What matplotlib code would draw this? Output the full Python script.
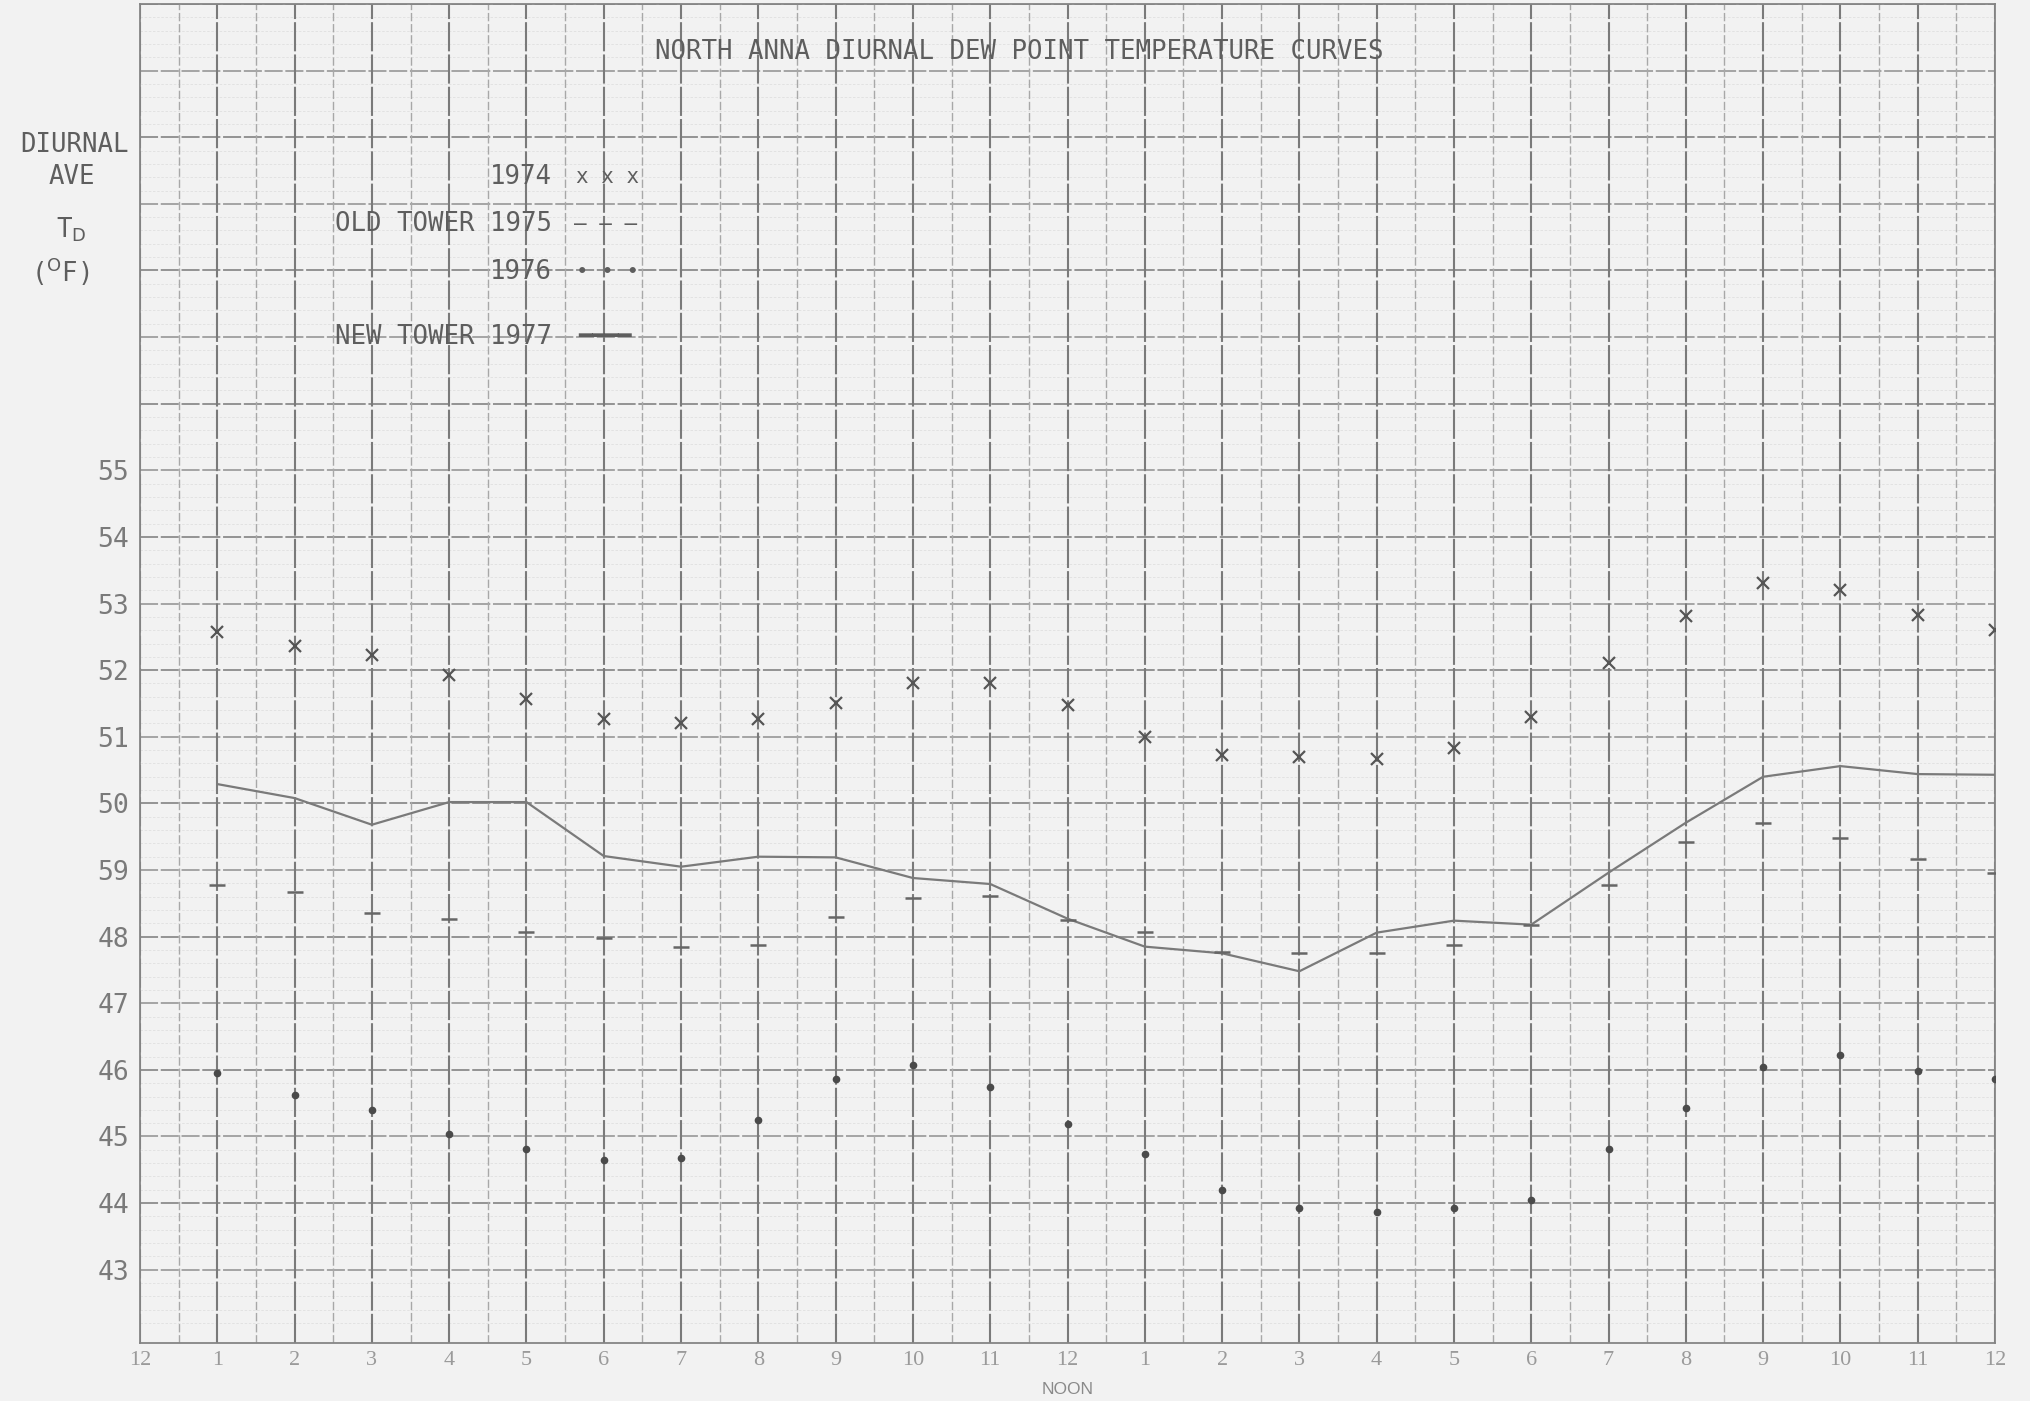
import matplotlib.pyplot as plt
import numpy as np

# hours after midnight (1 .. 24)
hours = list(range(1, 25))
dew_1974 = [52.57, 52.37, 52.23, 51.93, 51.57, 51.27, 51.20, 51.27, 51.50, 51.80, 51.80, 51.48,
            51.00, 50.72, 50.70, 50.66, 50.83, 51.30, 52.11, 52.81, 53.31, 53.20, 52.83, 52.60]
dew_1975 = [48.78, 48.67, 48.36, 48.27, 48.07, 47.98, 47.85, 47.87, 48.29, 48.58, 48.61, 48.25,
            48.07, 47.77, 47.76, 47.76, 47.88, 48.18, 48.78, 49.42, 49.70, 49.48, 49.16, 48.96]
dew_1976 = [45.95, 45.62, 45.40, 45.03, 44.81, 44.64, 44.67, 45.25, 45.87, 46.08, 45.75, 45.19,
            44.73, 44.20, 43.93, 43.86, 43.93, 44.05, 44.81, 45.43, 46.04, 46.23, 45.98, 45.86]
dew_1977 = [50.29, 50.08, 49.68, 50.02, 50.02, 49.21, 49.05, 49.20, 49.19, 48.88, 48.79, 48.27,
            47.85, 47.75, 47.48, 48.06, 48.24, 48.18, 48.96, 49.71, 50.40, 50.56, 50.44, 50.43]

x_tick_labels = ["12"] + [str(h) for h in range(1, 12)] + ["12"] + [str(h) for h in range(1, 12)] + ["12"]
y_tick_values = list(range(43, 56))
y_tick_labels = ["43", "44", "45", "46", "47", "48", "59", "50", "51", "52", "53", "54", "55"]

PAPER = "#f2f2f2"
INK = "#5e5e5e"
W, H = 2030, 1401


def fx(px):
    return px / W


def fy(py):
    return 1 - py / H


fig = plt.figure(figsize=(W / 100, H / 100), dpi=100, facecolor=PAPER)
ax = fig.add_axes([fx(140), fy(1343), fx(1995) - fx(140), fy(4) - fy(1343)], facecolor=PAPER)

# graph-paper grid
for v in np.arange(42.2, 62.01, 0.2):
    if abs(v - round(v)) > 1e-6:
        ax.axhline(v, color="#e0e0e0", lw=0.6, ls=(0, (3, 2)), zorder=0)
for v in range(43, 63):
    ax.axhline(v, color="#8c8c8c" if v % 2 == 0 else "#9e9e9e", lw=1.3, ls=(0, (10, 1.5)), zorder=0.5)
for h in np.arange(0.5, 24, 1.0):
    ax.axvline(h, color="#a8a8a8", lw=1.0, ls=(0, (6, 2)), zorder=0.5)
for h in range(0, 25):
    ax.axvline(h, color="#7a7a7a", lw=1.5, ls=(0, (14, 1.5)), zorder=0.5)

ax.plot(hours, dew_1977, color="#7a7a7a", lw=1.6, zorder=3)
ax.plot(hours, dew_1974, ls="none", marker="x", ms=8.5, mew=1.6, color="#555555", zorder=4)
ax.plot(hours, dew_1975, ls="none", marker="_", ms=12, mew=1.8, color="#666666", zorder=4)
ax.plot(hours, dew_1976, ls="none", marker="o", ms=4.5, color="#4a4a4a", zorder=4)

ax.set_xlim(0, 24)
ax.set_ylim(41.9, 62.0)
ax.set_xticks(range(0, 25))
ax.set_xticklabels(x_tick_labels, family="Liberation Serif", fontsize=16, color="#9a9a9a")
ax.set_yticks(y_tick_values)
ax.set_yticklabels(y_tick_labels, family="DejaVu Sans Mono", fontsize=19, color="#7a7a7a")
ax.tick_params(axis="x", length=0, pad=6)
ax.tick_params(axis="y", length=0, pad=8)
for s in ax.spines.values():
    s.set_color("#858585")
    s.set_linewidth(1.3)
ax.text(12, -0.029, "NOON", transform=ax.get_xaxis_transform(), ha="center", va="top",
        family="Liberation Sans", fontsize=12.5, color="#8a8a8a")

mono = dict(family="DejaVu Sans Mono", color=INK)
fig.text(fx(1019), fy(52), "NORTH ANNA DIURNAL DEW POINT TEMPERATURE CURVES",
         ha="center", va="center", fontsize=18.5, **mono)

# axis caption on the left
fig.text(fx(74), fy(145), "DIURNAL", ha="center", va="center", fontsize=18.5, **mono)
fig.text(fx(72), fy(177), "AVE", ha="center", va="center", fontsize=18.5, **mono)
fig.text(fx(71), fy(230), r"T$_{\rm D}$", ha="center", va="center", fontsize=18.5, **mono)
fig.text(fx(60), fy(272), r"($^{\rm O}$F)", ha="center", va="center", fontsize=18.5, **mono)

# typed legend
fig.text(fx(552), fy(177), "1974", ha="right", va="center", fontsize=18.5, **mono)
fig.text(fx(576), fy(177), "x x x", ha="left", va="center", fontsize=15, **mono)
fig.text(fx(552), fy(224), "OLD TOWER 1975", ha="right", va="center", fontsize=18.5, **mono)
fig.text(fx(574), fy(224), "\u2013 \u2013 \u2013", ha="left", va="center", fontsize=15, **mono)
fig.text(fx(552), fy(272), "1976", ha="right", va="center", fontsize=18.5, **mono)
fig.text(fx(576), fy(272), "\u2022 \u2022 \u2022", ha="left", va="center", fontsize=15, **mono)
fig.text(fx(552), fy(337), "NEW TOWER 1977", ha="right", va="center", fontsize=18.5, **mono)
fig.text(fx(578), fy(337), "\u2501\u2501\u2501\u2501", ha="left", va="center", fontsize=16, **mono)

fig.savefig("out.png", dpi=100, facecolor=PAPER)
